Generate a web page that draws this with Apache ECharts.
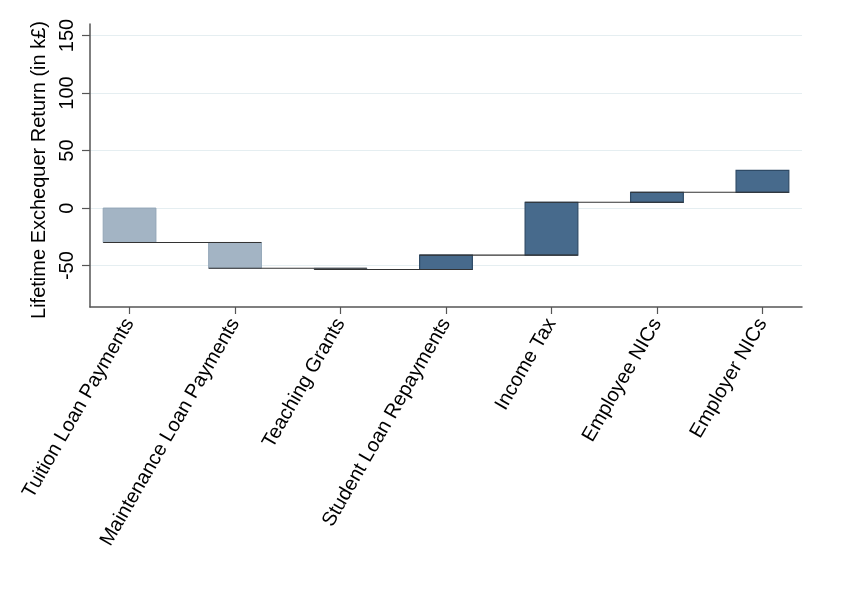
<!DOCTYPE html>
<html>
<head>
<meta charset="utf-8">
<script src="https://cdn.jsdelivr.net/npm/echarts@6/dist/echarts.min.js"></script>
<style>
html,body{margin:0;padding:0;background:#fff;}
#chart{width:848px;height:608px;}
</style>
</head>
<body>
<div id="chart"></div>
<script>
const categories = ["Tuition Loan Payments", "Maintenance Loan Payments", "Teaching Grants", "Student Loan Repayments", "Income Tax", "Employee NICs", "Employer NICs"];
const values = [-29.9, -22.4, -1.1, 12.5, 45.9, 8.7, 19.1];
const yTicks = [-50, 0, 50, 100, 150];
const xTicks = [1, 2, 3, 4, 5, 6, 7];

// build waterfall rows: [position, start, end, value]
const rows = [];
let run = 0;
values.forEach((v, i) => {
  const start = run;
  run = +(run + v).toFixed(3);
  rows.push([i + 1, start, run, v]);
});

const chart = echarts.init(document.getElementById('chart'), null, {renderer: 'canvas'});
const halfW = 0.25;
const font = 'Liberation Sans, Arial, Helvetica, sans-serif';

chart.setOption({
  backgroundColor: '#fff',
  animation: false,
  grid: {left: 90, right: 46, top: 24, bottom: 301, containLabel: false},
  xAxis: {
    type: 'value', min: 0.625, max: 7.375,
    axisLine: {show: true, onZero: false, lineStyle: {color: '#555', width: 1.5}},
    axisTick: {show: true, customValues: xTicks, length: 7, lineStyle: {color: '#555', width: 1.2}},
    axisLabel: {customValues: xTicks, formatter: v => categories[Math.round(v) - 1] || '', rotate: 60, fontSize: 20, color: '#000', fontFamily: font, margin: 13},
    splitLine: {show: false}
  },
  yAxis: {
    type: 'value', min: -86, max: 160,
    name: 'Lifetime Exchequer Return (in k£)', nameLocation: 'middle', nameGap: 35,
    nameTextStyle: {fontSize: 20, color: '#000', fontFamily: font, padding: [0, 9, 0, 0]},
    axisLine: {show: true, onZero: false, lineStyle: {color: '#555', width: 1.5}},
    axisTick: {show: true, customValues: yTicks, length: 8, lineStyle: {color: '#555', width: 1.2}},
    axisLabel: {customValues: yTicks, rotate: 90, fontSize: 20, color: '#000', fontFamily: font, margin: 13},
    splitLine: {show: true, lineStyle: {color: '#e5eef1', width: 1.2}}
  },
  series: [
    {
      type: 'custom', z: 2,
      data: rows,
      encode: {x: 0, y: [1, 2]},
      renderItem: (params, api) => {
        const x = api.value(0), s = api.value(1), e = api.value(2), v = api.value(3);
        const a = api.coord([x - halfW, Math.max(s, e)]);
        const b = api.coord([x + halfW, Math.min(s, e)]);
        const neg = v < 0;
        return {
          type: 'rect',
          shape: {x: a[0], y: a[1], width: b[0] - a[0], height: Math.max(b[1] - a[1], 0.5)},
          style: neg ? {fill: '#a3b4c4', stroke: '#92a5b7', lineWidth: 1}
                     : {fill: '#476a8c', stroke: '#2e4a66', lineWidth: 1.2}
        };
      }
    },
    {
      type: 'custom', z: 3,
      data: rows.slice(0, rows.length - 1),
      encode: {x: 0, y: 2},
      renderItem: (params, api) => {
        const x = api.value(0), e = api.value(2);
        const a = api.coord([x - halfW, e]);
        const b = api.coord([x + 1 + halfW, e]);
        return {
          type: 'line',
          shape: {x1: a[0], y1: a[1], x2: b[0], y2: b[1]},
          style: {stroke: '#333', lineWidth: 1.1}
        };
      }
    }
  ]
});
</script>
</body>
</html>
